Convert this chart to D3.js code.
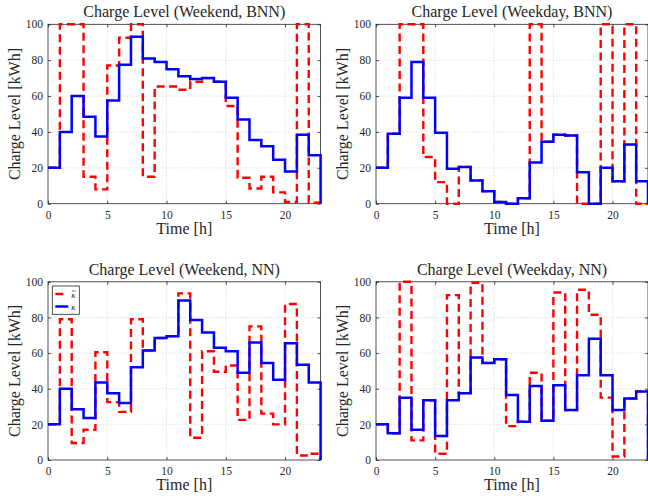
<!DOCTYPE html>
<html>
<head>
<meta charset="utf-8">
<script src="https://cdn.jsdelivr.net/npm/d3@7"></script>
<style>
  body { margin: 0; background: #fff; }
  svg text { font-family: "Liberation Serif", serif; fill: #262626; }
</style>
</head>
<body>
<div id="viz"></div>
<script>
// hours 0..23, stairs style
var hours = [0,1,2,3,4,5,6,7,8,9,10,11,12,13,14,15,16,17,18,19,20,21,22,23];

var titles = ["Charge Level (Weekend, BNN)", "Charge Level (Weekday, BNN)",
              "Charge Level (Weekend, NN)", "Charge Level (Weekday, NN)"];

var xTicks = [0, 5, 10, 15, 20];
var yTicks = [0, 20, 40, 60, 80, 100];

// kappa (blue) and kappa bar (red dashed)
var kapWeBNN = [20, 40, 60, 48.5, 37.5, 57.5, 77.5, 93, 81, 79, 75, 71, 69.5, 70, 68, 59, 47, 35.5, 32, 24.5, 18, 38.5, 27, 0];
var barWeBNN = [20, 100, 100, 15, 8, 77, 92.5, 100, 15, 65.3, 65.3, 63.5, 68, 70, 68, 54.5, 14.5, 8.5, 15, 6.3, 1, 100, 0.5, 0];

var kapWdBNN = [20, 39, 59, 79, 59, 39.5, 19.5, 20.5, 13, 7, 1, 0, 3, 23, 34.5, 38.5, 38, 17.5, 0, 20, 12.5, 33, 12.5, 0];
var barWdBNN = [20, 39, 100, 100, 26, 12, 0, 20.5, 13, 7, 1, 0, 3, 100, 34.5, 38.5, 38, 0, 0, 100, 12.5, 100, 0, 0];

var kapWeNN = [20, 40, 28.5, 23.5, 43.5, 37.5, 32, 52, 61.5, 68.5, 69.5, 89.5, 78.5, 71.5, 63, 61, 49, 66, 54.5, 45, 65.5, 53.5, 43.5, 0];
var barWeNN = [20, 79, 9.5, 17, 60.5, 32.5, 27, 79, 61.5, 68.5, 69.5, 93.5, 12.5, 61, 49.5, 53, 22.5, 75, 26, 20, 87.5, 2.5, 3.5, 0];

var kapWdNN = [20, 15, 35, 17, 33.5, 13.5, 33.5, 37.5, 57.5, 54.5, 56.5, 36.5, 21.5, 41.5, 22, 42, 28, 47.5, 68, 47.5, 28, 34.5, 38.5, 0];
var barWdNN = [20, 15, 100, 11, 33.5, 3.5, 92.5, 37.5, 99.5, 54.5, 56.5, 19, 21.5, 49, 22, 94, 28, 95.5, 81.5, 35, 2, 34.5, 38.5, 0];

var w = 648, h = 500;

var svg = d3.select('#viz')
            .append('svg')
            .attr('width', w)
            .attr('height', h);

// plot boxes [left, top, right, bottom]
var boxes = [
  [48, 24.3, 320.6, 203.7],
  [376, 24.3, 648, 203.7],
  [48, 281.8, 320.6, 460],
  [376, 281.8, 648, 460]
];

var series = [
  [kapWeBNN, barWeBNN],
  [kapWdBNN, barWdBNN],
  [kapWeNN, barWeNN],
  [kapWdNN, barWdNN]
];

boxes.forEach(function(b, i) {
  var pw = b[2] - b[0], ph = b[3] - b[1];
  var g = svg.append('g').attr('transform', 'translate(' + b[0] + ',' + b[1] + ')');

  var x = d3.scaleLinear().domain([0, 23]).range([0, pw]);
  var y = d3.scaleLinear().domain([0, 100]).range([ph, 0]);

  // grid
  g.selectAll('.gx').data(xTicks.slice(1)).enter().append('line')
    .attr('x1', d => x(d)).attr('x2', d => x(d))
    .attr('y1', 0).attr('y2', ph)
    .attr('stroke', '#cfcfcf').attr('stroke-width', 0.6).attr('stroke-dasharray', '1.5,1.5');
  g.selectAll('.gy').data(yTicks.slice(1, -1)).enter().append('line')
    .attr('x1', 0).attr('x2', pw)
    .attr('y1', d => y(d)).attr('y2', d => y(d))
    .attr('stroke', '#cfcfcf').attr('stroke-width', 0.6).attr('stroke-dasharray', '1.5,1.5');

  // axes, ticks inside
  var ax = g.append('g').attr('transform', 'translate(0,' + ph + ')')
    .call(d3.axisBottom(x).tickValues(xTicks).tickSizeInner(-3).tickSizeOuter(0).tickPadding(7));
  var axT = g.append('g')
    .call(d3.axisTop(x).tickValues(xTicks).tickSizeInner(-3).tickSizeOuter(0).tickFormat(''));
  var ay = g.append('g')
    .call(d3.axisLeft(y).tickValues(yTicks).tickSizeInner(-3).tickSizeOuter(0).tickPadding(5));
  var ayR = g.append('g').attr('transform', 'translate(' + pw + ',0)')
    .call(d3.axisRight(y).tickValues(yTicks).tickSizeInner(-3).tickSizeOuter(0).tickFormat(''));
  [ax, axT, ay, ayR].forEach(function(a) {
    a.select('.domain').remove();
    a.selectAll('line').attr('stroke', '#262626').attr('stroke-width', 0.8);
    a.selectAll('text').style('font-family', '"Liberation Serif", serif')
      .style('font-size', '11.5px').attr('fill', '#262626');
  });

  g.append('rect')
    .attr('width', pw).attr('height', ph)
    .attr('fill', 'none').attr('stroke', '#262626').attr('stroke-width', 0.8);

  var line = d3.line()
    .x((d, j) => x(hours[j]))
    .y(d => y(d))
    .curve(d3.curveStepAfter);

  g.append('path')
    .attr('d', line(series[i][1]))
    .attr('fill', 'none').attr('stroke', '#ff0000')
    .attr('stroke-width', 2.4).attr('stroke-dasharray', '8,4.5');
  g.append('path')
    .attr('d', line(series[i][0]))
    .attr('fill', 'none').attr('stroke', '#0000ff')
    .attr('stroke-width', 2.5);

  // labels
  g.append('text')
    .attr('x', (b[0] < 100 ? 184.3 : 512) - b[0]).attr('y', -7)
    .attr('text-anchor', 'middle').style('font-size', '16px')
    .text(titles[i]);
  g.append('text')
    .attr('x', (b[0] < 100 ? 184.3 : 512) - b[0]).attr('y', ph + 30)
    .attr('text-anchor', 'middle').style('font-size', '16px')
    .text('Time [h]');
  g.append('text')
    .attr('transform', 'translate(-28,' + (ph / 2) + ') rotate(-90)')
    .attr('text-anchor', 'middle').style('font-size', '16px')
    .text('Charge Level [kWh]');

  if (i == 2) {
    var lg = g.append('g').attr('transform', 'translate(4.3,4.2)');
    lg.append('rect').attr('width', 27).attr('height', 28.3)
      .attr('fill', '#fff').attr('stroke', '#262626').attr('stroke-width', 0.8);
    lg.append('line').attr('x1', 3).attr('x2', 11).attr('y1', 8).attr('y2', 8)
      .attr('stroke', '#ff0000').attr('stroke-width', 2.4);
    lg.append('line').attr('x1', 3).attr('x2', 16).attr('y1', 20.5).attr('y2', 20.5)
      .attr('stroke', '#0000ff').attr('stroke-width', 2.5);
    lg.append('text').attr('x', 19).attr('y', 11.5).style('font-size', '9px')
      .style('font-style', 'italic').text('\u03ba');
    // bar over kappa
    lg.append('line').attr('x1', 19.6).attr('x2', 23.6).attr('y1', 5).attr('y2', 5)
      .attr('stroke', '#262626').attr('stroke-width', 0.6);
    lg.append('text').attr('x', 19).attr('y', 23.5).style('font-size', '9px')
      .style('font-style', 'italic').text('\u03ba');
  }
});
</script>
</body>
</html>
